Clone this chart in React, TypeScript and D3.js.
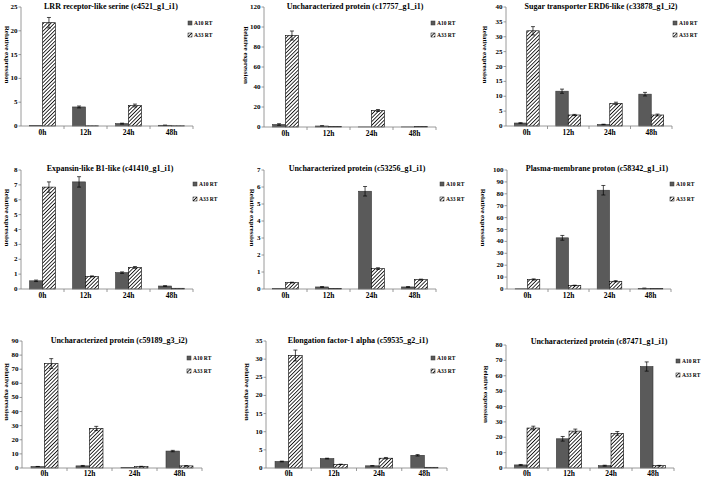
import React from 'react';
import * as d3 from 'd3';

const categories = ['0h', '12h', '24h', '48h'];
const seriesNames = ['A10 RT', 'A33 RT'];
const titles = [
  'LRR receptor-like serine (c4521_g1_i1)',
  'Uncharacterized protein (c17757_g1_i1)',
  'Sugar transporter ERD6-like (c33878_g1_i2)',
  'Expansin-like B1-like (c41410_g1_i1)',
  'Uncharacterized protein (c53256_g1_i1)',
  'Plasma-membrane proton (c58342_g1_i1)',
  'Uncharacterized protein (c59189_g3_i2)',
  'Elongation factor-1 alpha (c59535_g2_i1)',
  'Uncharacterized protein (c87471_g1_i1)',
];
const yMax = [25, 120, 40, 8, 7, 100, 90, 35, 80];
const yStep = [5, 20, 5, 1, 1, 10, 10, 5, 10];
const a10Values = [
  [0.1, 4.0, 0.5, 0.15],
  [2.5, 1.0, 0.1, 0.1],
  [1.0, 11.7, 0.5, 10.7],
  [0.55, 7.2, 1.1, 0.2],
  [0.02, 0.12, 5.75, 0.12],
  [0.2, 43, 83, 0.5],
  [1.0, 1.5, 0.3, 12],
  [1.8, 2.6, 0.6, 3.5],
  [2, 19, 1.5, 66],
];
const a10Errors = [
  [0, 0.2, 0.1, 0.05],
  [0.8, 0.3, 0, 0],
  [0.1, 0.7, 0.1, 0.6],
  [0.05, 0.35, 0.05, 0.02],
  [0, 0.02, 0.28, 0.02],
  [0, 2, 4, 0.3],
  [0.1, 0.3, 0, 0.5],
  [0.1, 0.1, 0.05, 0.2],
  [0.3, 1.5, 0.3, 3],
];
const a33Values = [
  [21.7, 0.05, 4.3, 0.05],
  [91.5, 0.5, 16.5, 0.5],
  [32, 3.7, 7.6, 3.7],
  [6.85, 0.85, 1.45, 0.05],
  [0.38, 0.03, 1.2, 0.55],
  [8, 3, 6.5, 0.3],
  [74, 28, 1.0, 1.5],
  [31, 1.0, 2.7, 0.2],
  [26, 24, 22.5, 1.5],
];
const a33Errors = [
  [1.1, 0, 0.3, 0],
  [4.5, 0, 1, 0],
  [1.4, 0.2, 0.4, 0.3],
  [0.35, 0.03, 0.06, 0],
  [0.02, 0, 0.05, 0.03],
  [0.5, 0.2, 0.5, 0],
  [3.5, 1.5, 0.2, 0.2],
  [1.5, 0.05, 0.2, 0],
  [1.2, 1.3, 1.2, 0.2],
];

// layout: plot frame, title, legend, y-label positions
const layout = [
  { x0: 21, x1: 193, top: 7, bot: 126, tx: 111, ty: 9, lgx: 188, lgy: 23, lgd: 12, ylx: 6.5, xly: 9 },
  { x0: 264, x1: 436, top: 7, bot: 127, tx: 355, ty: 9, lgx: 431, lgy: 23, lgd: 12, ylx: 246, xly: 9 },
  { x0: 506, x1: 672, top: 7, bot: 126, tx: 601, ty: 9, lgx: 673, lgy: 23, lgd: 12, ylx: 485, xly: 9 },
  { x0: 21, x1: 193, top: 170, bot: 289, tx: 110, ty: 171, lgx: 193, lgy: 184, lgd: 15, ylx: 6.5, xly: 9 },
  { x0: 264, x1: 436, top: 170, bot: 289, tx: 357, ty: 171, lgx: 440, lgy: 184, lgd: 15, ylx: 252, xly: 9 },
  { x0: 507, x1: 671, top: 170, bot: 289, tx: 597, ty: 171, lgx: 670, lgy: 184, lgd: 15, ylx: 483, xly: 9 },
  { x0: 22, x1: 202, top: 341, bot: 468, tx: 119, ty: 343, lgx: 187, lgy: 358, lgd: 13, ylx: 6.5, xly: 8 },
  { x0: 266, x1: 447, top: 341, bot: 468, tx: 358, ty: 343, lgx: 431, lgy: 358, lgd: 13, ylx: 247, xly: 8 },
  { x0: 506, x1: 674, top: 345, bot: 468, tx: 599, ty: 344, lgx: 676, lgy: 361, lgd: 14, ylx: 486, xly: 8 },
];

const FONT = '"Liberation Serif", "Times New Roman", serif';
const A10_FILL = '#5a5a5a';
const AXIS = '#808080';

function Panel({ i }: { i: number }) {
  const L = layout[i];
  const x = d3.scaleBand<string>().domain(categories).range([L.x0, L.x1]);
  const bw = x.bandwidth();
  const xs = d3.scaleBand<string>().domain(seriesNames).range([bw * 0.2, bw * 0.8]);
  const y = d3.scaleLinear().domain([0, yMax[i]]).range([L.bot, L.top]);
  const ticks = d3.range(0, yMax[i] + yStep[i] / 2, yStep[i]);
  const sw = xs.bandwidth();
  const series = [
    { name: seriesNames[0], vals: a10Values[i], errs: a10Errors[i], fill: A10_FILL, stroke: '#333' },
    { name: seriesNames[1], vals: a33Values[i], errs: a33Errors[i], fill: 'url(#hatch)', stroke: '#000' },
  ];
  const ylY = L.top + (L.bot - L.top) * 0.4;
  return (
    <g>
      <text x={L.tx} y={L.ty} textAnchor="middle" fontFamily={FONT} fontWeight="bold" fontSize={8}>
        {titles[i]}
      </text>
      <text
        transform={`translate(${L.ylx},${ylY}) rotate(90)`}
        textAnchor="middle"
        dominantBaseline="central"
        fontFamily={FONT}
        fontWeight="bold"
        fontSize={7}
      >
        Relative expression
      </text>
      {/* bars */}
      {series.map((s) =>
        categories.map((c, k) => {
          const bx = (x(c) as number) + (xs(s.name) as number);
          const v = s.vals[k];
          return (
            <rect
              key={s.name + c}
              x={bx}
              y={y(v)}
              width={sw}
              height={Math.max(0, y(0) - y(v))}
              fill={s.fill}
              stroke={s.stroke}
              strokeWidth={0.6}
            />
          );
        })
      )}
      {/* error bars */}
      {series.map((s) =>
        categories.map((c, k) => {
          const e = s.errs[k];
          if (!e) return null;
          const cx = (x(c) as number) + (xs(s.name) as number) + sw / 2;
          const v = s.vals[k];
          return (
            <g key={'e' + s.name + c} stroke="#000" strokeWidth={0.7}>
              <line x1={cx} x2={cx} y1={y(v + e)} y2={y(Math.max(0, v - e))} />
              <line x1={cx - 2} x2={cx + 2} y1={y(v + e)} y2={y(v + e)} />
              <line x1={cx - 2} x2={cx + 2} y1={y(Math.max(0, v - e))} y2={y(Math.max(0, v - e))} />
            </g>
          );
        })
      )}
      {/* y axis */}
      <line x1={L.x0} x2={L.x0} y1={L.top} y2={L.bot} stroke={AXIS} strokeWidth={0.8} />
      {ticks.map((t) => (
        <g key={'t' + t}>
          <line x1={L.x0 - 2.5} x2={L.x0} y1={y(t)} y2={y(t)} stroke={AXIS} strokeWidth={0.8} />
          <text
            x={L.x0 - 3.5}
            y={y(t)}
            textAnchor="end"
            dominantBaseline="central"
            fontFamily={FONT}
            fontWeight="bold"
            fontSize={7}
          >
            {t}
          </text>
        </g>
      ))}
      {/* x axis */}
      <line x1={L.x0} x2={L.x1} y1={L.bot} y2={L.bot} stroke={AXIS} strokeWidth={0.8} />
      {categories.map((c) => (
        <g key={'x' + c}>
          <line x1={(x(c) as number) + bw} x2={(x(c) as number) + bw} y1={L.bot} y2={L.bot + 3} stroke={AXIS} strokeWidth={0.8} />
          <text
            x={(x(c) as number) + bw / 2}
            y={L.bot + L.xly}
            textAnchor="middle"
            fontFamily={FONT}
            fontWeight="bold"
            fontSize={7.5}
          >
            {c}
          </text>
        </g>
      ))}
      {/* legend */}
      {series.map((s, k) => (
        <g key={'l' + s.name}>
          <rect
            x={L.lgx}
            y={L.lgy + k * L.lgd - 2}
            width={4}
            height={4}
            fill={s.fill}
            stroke={s.stroke}
            strokeWidth={0.5}
          />
          <text
            x={L.lgx + 6}
            y={L.lgy + k * L.lgd}
            dominantBaseline="central"
            fontFamily={FONT}
            fontWeight="bold"
            fontSize={5.5}
          >
            {s.name}
          </text>
        </g>
      ))}
    </g>
  );
}

export default function App() {
  return (
    <svg
      width={702}
      height={477}
      style={{ position: 'absolute', left: 0, top: 0, background: '#fff' }}
    >
      <defs>
        <pattern id="hatch" patternUnits="userSpaceOnUse" width={2.6} height={2.6} patternTransform="rotate(45)">
          <rect width={2.6} height={2.6} fill="#fff" />
          <line x1={0} y1={0} x2={0} y2={2.6} stroke="#000" strokeWidth={1.6} />
        </pattern>
      </defs>
      <rect width={702} height={477} fill="#fff" />
      {titles.map((_, i) => (
        <Panel key={i} i={i} />
      ))}
    </svg>
  );
}
